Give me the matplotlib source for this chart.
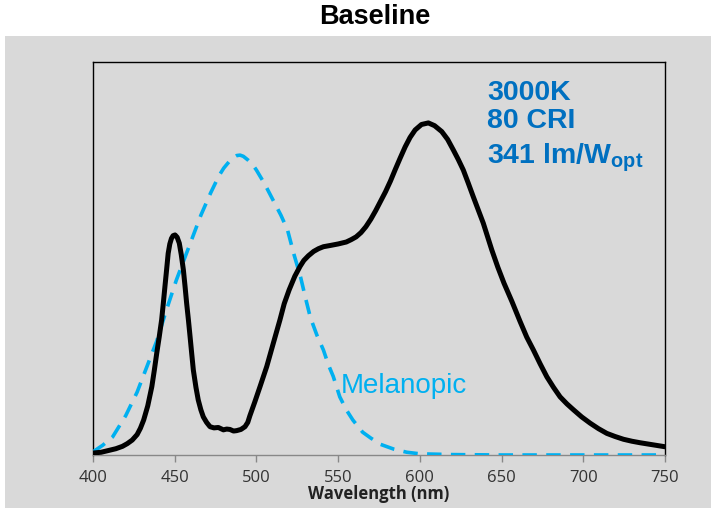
import matplotlib
matplotlib.use("Agg")
import matplotlib.pyplot as plt
from matplotlib.patches import Rectangle

plt.rcParams["mathtext.fontset"] = "custom"
plt.rcParams["mathtext.rm"] = "Liberation Sans:bold"
plt.rcParams["mathtext.it"] = "Liberation Sans:bold"
plt.rcParams["mathtext.bf"] = "Liberation Sans:bold"
plt.rcParams["mathtext.default"] = "rm"

# LED spectrum (relative power)
spd_nm = [400, 405, 410, 414, 418, 421, 424, 427, 429, 431, 433.5, 436, 437.5,
          439, 440.5, 442, 443, 444, 445, 446, 447, 448, 449, 450.2, 451.5, 452.8,
          454, 455.3, 456.3, 457.3, 458.4, 459.4, 460.4, 461.4, 463, 464.4, 466,
          467.5, 469.5, 471.6, 474, 476.7, 479.8, 481.8, 483.8, 486, 487.9, 490.5,
          493, 494.7, 496, 499, 502.2, 506.3, 510.3, 514.4, 517, 520, 523.5,
          526.7, 529, 531.8, 535, 538, 541, 545, 550, 555, 558, 561, 564, 567,
          570, 573, 576, 579, 582, 585, 588, 591, 594, 597.1, 601, 605.2, 609,
          613.4, 617, 620.5, 623.5, 626.6, 629.6, 632.7, 635.7, 638.8, 641.4, 644,
          647.7, 651.5, 656.4, 661.3, 665.4, 669.5, 673.6, 677.7, 681.8, 685.8,
          690, 694, 699, 704.2, 709.3, 714.4, 719.5, 724.6, 729.8, 735, 742.5,
          750]
spd_val = [0.005, 0.007, 0.012, 0.016, 0.022, 0.029, 0.038, 0.052, 0.068, 0.089,
           0.125, 0.174, 0.215, 0.259, 0.300, 0.344, 0.385, 0.428, 0.470, 0.513,
           0.537, 0.551, 0.558, 0.560, 0.554, 0.539, 0.510, 0.471, 0.430, 0.386,
           0.343, 0.301, 0.258, 0.216, 0.172, 0.140, 0.115, 0.097, 0.083, 0.072,
           0.069, 0.070, 0.064, 0.066, 0.065, 0.061, 0.062, 0.065, 0.072, 0.083,
           0.100, 0.135, 0.174, 0.225, 0.284, 0.344, 0.385, 0.420, 0.455, 0.480,
           0.495, 0.507, 0.518, 0.525, 0.530, 0.533, 0.537, 0.542, 0.548, 0.555,
           0.566, 0.581, 0.600, 0.622, 0.646, 0.670, 0.697, 0.727, 0.756, 0.784,
           0.808, 0.827, 0.841, 0.845, 0.838, 0.823, 0.803, 0.776, 0.752, 0.725,
           0.692, 0.657, 0.624, 0.590, 0.556, 0.522, 0.478, 0.437, 0.390, 0.340,
           0.300, 0.267, 0.232, 0.199, 0.172, 0.148, 0.130, 0.115, 0.097, 0.081,
           0.067, 0.055, 0.047, 0.040, 0.035, 0.031, 0.026, 0.021]

# Melanopic action spectrum
mel_nm = [400, 406, 412, 420, 427, 433, 439, 445, 451, 456, 461, 466, 472, 477,
          480, 482, 484, 486, 488, 490, 492, 495, 497.5, 500, 505, 510, 515, 519,
          523, 527, 530, 533, 537, 541, 544, 547, 551, 555, 559, 565, 570, 576,
          584, 592, 600, 620, 650, 700, 750]
mel_val = [0.008, 0.025, 0.046, 0.10, 0.16, 0.225, 0.29, 0.37, 0.445, 0.50, 0.555,
           0.61, 0.667, 0.71, 0.73, 0.74, 0.75, 0.757, 0.762, 0.763, 0.760, 0.75,
           0.74, 0.725, 0.69, 0.65, 0.61, 0.573, 0.51, 0.453, 0.40, 0.35, 0.305,
           0.267, 0.23, 0.20, 0.148, 0.115, 0.089, 0.058, 0.043, 0.027, 0.015,
           0.007, 0.003, 0.001, 0.0, 0.0, 0.0]

x_ticks = [400, 450, 500, 550, 600, 650, 700, 750]

title_text = "Baseline"
x_label = "Wavelength (nm)"
mel_label = "Melanopic"
info_lines = ["3000K", "80 CRI", "341 lm/W$_{opt}$"]

GRAY = "#D9D9D9"
MEL_BLUE = "#00B0F0"
INFO_BLUE = "#0070C0"

W, H = 711, 508
fig = plt.figure(figsize=(W / 100, H / 100), dpi=100, facecolor="white")
fig.patches.append(Rectangle((5 / W, 0), 1, 1 - 36 / H, transform=fig.transFigure,
                             facecolor=GRAY, edgecolor="none", zorder=-10))

ax = fig.add_axes([93 / W, 1 - 455 / H, (665 - 93) / W, (455 - 62) / H])
ax.set_facecolor(GRAY)
ax.set_zorder(1)

ax.plot(mel_nm, mel_val, color=MEL_BLUE, lw=2.6, dashes=(4, 2.6),
        solid_capstyle="butt", zorder=3)
ax.plot(spd_nm, spd_val, color="black", lw=3.6, solid_joinstyle="round",
        solid_capstyle="round", zorder=4)

ax.set_xlim(400, 750)
ax.set_ylim(0, 1)
ax.set_yticks([])
ax.set_xticks(x_ticks)
ax.set_xticklabels([str(t) for t in x_ticks], fontfamily="Open Sans", fontsize=12,
                   color="#333333")
ax.tick_params(axis="x", direction="out", length=5, width=1, color="#888888", pad=6)

for side in ("left", "top", "right"):
    ax.spines[side].set_color("black")
    ax.spines[side].set_linewidth(1.0)
ax.spines["bottom"].set_color("#888888")
ax.spines["bottom"].set_linewidth(1.0)

ax.text(551.8, 0.158, mel_label, color=MEL_BLUE, fontsize=20,
        fontfamily="Liberation Sans", va="baseline", ha="left", zorder=5)

for txt, yb in zip(info_lines, [0.903, 0.832, 0.743]):
    ax.text(641.1, yb, txt, color=INFO_BLUE, fontsize=20.5, fontweight="bold",
            fontfamily="Liberation Sans", va="baseline", ha="left", zorder=5)

fig.text(375 / W, 1 - 17 / H, title_text, fontsize=19.5, fontweight="bold",
         fontfamily="Liberation Sans", ha="center", va="center")
fig.text(379 / W, 1 - 494 / H, x_label, fontsize=12, fontweight="bold",
         fontfamily="Open Sans", ha="center", va="center", color="#222222",
         zorder=5)

fig.savefig("out.png", dpi=100, facecolor="white")
